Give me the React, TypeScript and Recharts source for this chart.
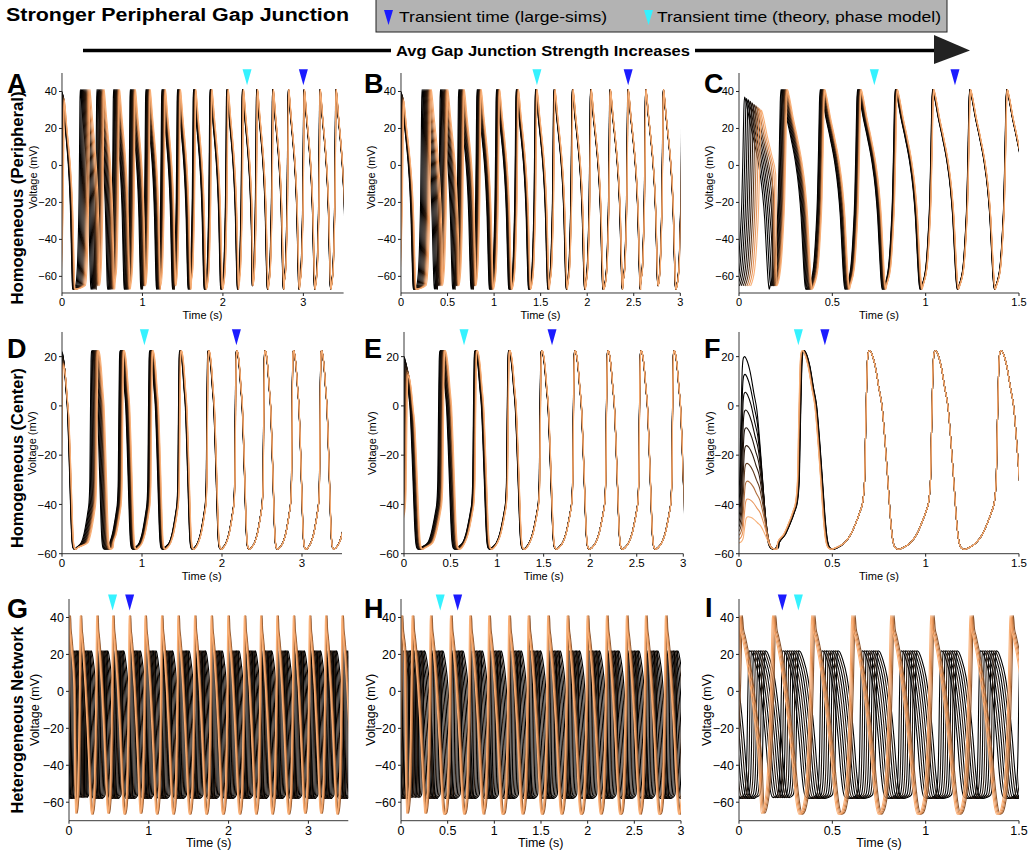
import React from "react";
import { LineChart, Line, XAxis, YAxis, ReferenceDot } from "recharts";

const FONT = "'Liberation Sans', Arial, Helvetica, sans-serif";

// one converged action potential per row, read off the last cycles
// fall: [s after peak, mV]   rise: [s before next peak, mV]
const periphFall = [[0, 41], [0.008, 38], [0.03, 26], [0.055, 14], [0.077, 2], [0.095, -12], [0.108, -28], [0.118, -48], [0.126, -62], [0.132, -67]];
const periphRise = [[0.058, -65], [0.036, -55], [0.024, -38], [0.015, -18], [0.009, 8], [0.004, 34]];
const centerFall = [[0, 22.5], [0.012, 21], [0.03, 16], [0.05, 7], [0.066, 0], [0.084, -16], [0.1, -33], [0.113, -47], [0.125, -55], [0.14, -57.8], [0.155, -58.2], [0.18, -57.5]];
const centerRise = [[0.134, -55.5], [0.1, -52], [0.082, -49], [0.052, -43], [0.037, -39], [0.027, -30], [0.022, -12], [0.017, 5], [0.012, 18], [0.006, 22]];
const hetHiFall = [[0, 41], [0.006, 34], [0.015, 30], [0.035, 20], [0.06, 3], [0.085, -18], [0.105, -38], [0.12, -54], [0.132, -63], [0.142, -66.5]];
const hetHiRise = [[0.06, -66], [0.045, -62], [0.03, -50], [0.018, -25], [0.009, 5], [0.003, 33]];
const hetLoFall = [[0, 22], [0.01, 21.5], [0.028, 17], [0.05, 8], [0.07, -7], [0.088, -26], [0.102, -44], [0.112, -53], [0.122, -57], [0.14, -58]];
const hetLoRise = [[0.05, -57.5], [0.028, -56], [0.018, -49], [0.012, -30], [0.008, -4], [0.004, 15]];

// peak times (s) of the leading trace, and lag of the last (orange) trace behind it
const aPeaks = [0.0, 0.227, 0.434, 0.641, 0.848, 1.042, 1.241, 1.435, 1.634, 1.84, 2.047, 2.241, 2.419, 2.618, 2.812, 3.007, 3.205, 3.404, 3.6];
const aSpread = [0.03, 0.12, 0.09, 0.075, 0.065, 0.055, 0.045, 0.038, 0.03, 0.025, 0.02, 0.016, 0.013, 0.01, 0.008, 0.007, 0.006, 0.005, 0.005];
const aFirst = [40, 35];
const bPeaks = [0.0, 0.226, 0.423, 0.62, 0.817, 1.025, 1.237, 1.444, 1.642, 1.839, 2.036, 2.244, 2.437, 2.628, 2.817, 3.02];
const bSpread = [0.03, 0.1, 0.08, 0.06, 0.045, 0.035, 0.025, 0.018, 0.013, 0.01, 0.008, 0.006, 0.005, 0.004, 0.004, 0.004];
const bFirst = [40, 35];
const cPeaks = [0.03, 0.225, 0.435, 0.635, 0.837, 1.037, 1.236, 1.434, 1.63];
const cSpread = [0.09, 0.035, 0.025, 0.02, 0.012, 0.007, 0.005, 0.004, 0.004];
const cFirst = [37, 30];
const dPeaks = [0.0, 0.375, 0.73, 1.1, 1.475, 1.83, 2.185, 2.54, 2.895, 3.245, 3.6];
const dSpread = [0.02, 0.085, 0.05, 0.04, 0.02, 0.01, 0.005, 0.003, 0.002, 0.002, 0.002];
const dFirst = [22, 16];
const ePeaks = [0.0, 0.39, 0.765, 1.128, 1.48, 1.838, 2.193, 2.548, 2.903, 3.258];
const eSpread = [0.05, 0.055, 0.025, 0.012, 0.006, 0.003, 0.002, 0.002, 0.002, 0.002];
const eFirst = [20, 12];
const fPeaks = [0.03, 0.35, 0.7, 1.053, 1.405, 1.76];
const fSpread = [0.02, -0.01, 0, 0, 0, 0];
const fFirst = [20, -45];
const gPeaks = [-0.2, 0.0, 0.14, 0.346, 0.546, 0.754, 0.952, 1.158, 1.364, 1.572, 1.78, 1.99, 2.196, 2.4, 2.604, 2.81, 3.012, 3.214, 3.42, 3.62];
const hPeaks = [-0.2, 0.0, 0.118, 0.314, 0.529, 0.736, 0.939, 1.154, 1.361, 1.571, 1.779, 1.993, 2.2, 2.414, 2.618, 2.832, 3.04];
const iPeaks = [-0.2, 0.0, 0.179, 0.389, 0.604, 0.8125, 1.027, 1.2375, 1.452, 1.665];
// heterogeneous: lags (s) of the low-amplitude (dark) and high-amplitude (orange) cells
const gLoLags = [0.03, 0.045, 0.06, 0.075, 0.09, 0.105, 0.12, 0.135];
const hLoLags = [0.025, 0.04, 0.055, 0.07, 0.085, 0.1, 0.115, 0.13];
const iLoLags = [0.055, 0.067, 0.079, 0.091, 0.103, 0.115, 0.127, 0.139];
const gHiLags = [0.02, 0.012, 0.006, 0];
const hHiLags = [0.02, 0.012, 0.006, 0];
const iHiLags = [0.018, 0.012, 0.006, 0];

// transient-time markers [cyan theory, blue large-sims] in s
const aMarks = [2.3, 3.0];
const bMarks = [1.46, 2.44];
const cMarks = [0.725, 1.157];
const dMarks = [1.03, 2.18];
const eMarks = [0.645, 1.59];
const fMarks = [0.318, 0.46];
const gMarks = [0.546, 0.76];
const hMarks = [0.42, 0.607];
const iMarks = [0.318, 0.232];

const xTicksLong = [0, 1, 2, 3];
const xTicksMid = [0, 0.5, 1, 1.5, 2, 2.5, 3];
const xTicksShort = [0, 0.5, 1, 1.5];
const yTicksTall = [-60, -40, -20, 0, 20, 40];
const yTicksCenter = [-60, -40, -20, 0, 20];

const traceColors = ["#000000", "#000000", "#0a0604", "#140c07", "#1f130b", "#2e1c10", "#5e3b21", "#b06f3f", "#e8955b", "#f8b077"];
const loColors = ["#000000", "#1f140c", "#000000", "#2e1d11", "#0d0805", "#000000", "#24170d", "#000000"];
const hiColors = ["#8a5530", "#c98048", "#ee9a5f", "#f9b077"];

type Pt = { t: number; v: number };

function buildCycles(pk: number[], fall: number[][], rise: number[][], floor: number, firstPeak: number) {
  const pts: Pt[] = [];
  const s0 = (firstPeak - floor) / (fall[0][1] - floor);
  for (let j = 0; j < pk.length; j++) {
    const s = j === 0 ? s0 : 1;
    const sc = (v: number) => floor + (v - floor) * s;
    if (j === 0) rise.forEach(([d, v]) => pts.push({ t: pk[0] - d, v: sc(v) }));
    const nextStart = j + 1 < pk.length ? pk[j + 1] - rise[0][0] : Infinity;
    for (const [dt, v] of fall) {
      if (pk[j] + dt >= nextStart) break;
      pts.push({ t: pk[j] + dt, v: sc(v) });
    }
    if (j + 1 < pk.length) rise.forEach(([d, v]) => pts.push({ t: pk[j + 1] - d, v }));
  }
  return pts;
}

const homTraces = (peaks: number[], spread: number[], first: number[], fall: number[][], rise: number[][], floor: number) => {
  const n = traceColors.length - 1;
  return traceColors.map((color, k) => ({
    color,
    pts: buildCycles(peaks.map((p, j) => p + (spread[j] * k) / n), fall, rise, floor, first[0] + ((first[1] - first[0]) * k) / n),
  }));
};

const hetTraces = (peaks: number[], loLags: number[], hiLags: number[]) => [
  ...loLags.map((lag, i) => ({ color: loColors[i], pts: buildCycles(peaks.map((p) => p + lag), hetLoFall, hetLoRise, -58, 22) })),
  ...hiLags.map((lag, i) => ({ color: hiColors[i], pts: buildCycles(peaks.map((p) => p + lag), hetHiFall, hetHiRise, -66.5, 41) })),
];

const rowTop = [73.3, 332.3, 599];
const rowH = [220, 221.7, 221.7];

const panels = [
  { id: "A", row: 0, left: 61.7, w: 281.6, xMax: 3.5, xTicks: xTicksLong, yDomain: [-69, 50], yTicks: yTicksTall, marks: aMarks, tipV: 43.4, fs: 11, vx: -29, traces: homTraces(aPeaks, aSpread, aFirst, periphFall, periphRise, -67) },
  { id: "B", row: 0, left: 400.7, w: 279.3, xMax: 3, xTicks: xTicksMid, yDomain: [-69, 50], yTicks: yTicksTall, marks: bMarks, tipV: 43.4, fs: 11, vx: -30, traces: homTraces(bPeaks, bSpread, bFirst, periphFall, periphRise, -67) },
  { id: "C", row: 0, left: 739, w: 280, xMax: 1.5, xTicks: xTicksShort, yDomain: [-69, 50], yTicks: yTicksTall, marks: cMarks, tipV: 43.4, fs: 11, vx: -30, traces: homTraces(cPeaks, cSpread, cFirst, periphFall, periphRise, -67) },
  { id: "D", row: 1, left: 61.7, w: 280, xMax: 3.5, xTicks: xTicksLong, yDomain: [-60, 30], yTicks: yTicksCenter, marks: dMarks, tipV: 24.6, fs: 11.5, vx: -30, traces: homTraces(dPeaks, dSpread, dFirst, centerFall, centerRise, -58.2) },
  { id: "E", row: 1, left: 404, w: 279.3, xMax: 3, xTicks: xTicksMid, yDomain: [-60, 30], yTicks: yTicksCenter, marks: eMarks, tipV: 24.6, fs: 11.5, vx: -32, traces: homTraces(ePeaks, eSpread, eFirst, centerFall, centerRise, -58.2) },
  { id: "F", row: 1, left: 739, w: 280, xMax: 1.5, xTicks: xTicksShort, yDomain: [-60, 30], yTicks: yTicksCenter, marks: fMarks, tipV: 24.6, fs: 11.5, vx: -29, traces: homTraces(fPeaks, fSpread, fFirst, centerFall, centerRise, -58.2) },
  { id: "G", row: 2, left: 69, w: 279.3, xMax: 3.5, xTicks: xTicksLong, yDomain: [-70, 50], yTicks: yTicksTall, marks: gMarks, tipV: 43.8, fs: 12.5, vx: -34, traces: hetTraces(gPeaks, gLoLags, gHiLags) },
  { id: "H", row: 2, left: 400.7, w: 280, xMax: 3, xTicks: xTicksMid, yDomain: [-70, 50], yTicks: yTicksTall, marks: hMarks, tipV: 43.8, fs: 12.5, vx: -30, traces: hetTraces(hPeaks, hLoLags, hHiLags) },
  { id: "I", row: 2, left: 739, w: 280, xMax: 1.5, xTicks: xTicksShort, yDomain: [-70, 50], yTicks: yTicksTall, marks: iMarks, tipV: 43.8, fs: 12.5, vx: -32.5, traces: hetTraces(iPeaks, iLoLags, iHiLags) },
];

const letterPos: Record<string, number[]> = {
  A: [7, 93], B: [364, 93], C: [704, 93], D: [7, 358], E: [364, 358], F: [704, 358], G: [7, 618], H: [364, 618], I: [705, 617],
};
const rowLabels = [
  { text: "Homogeneous (Peripheral)", y: 198, len: 213 },
  { text: "Homogeneous (Center)", y: 458, len: 180 },
  { text: "Heterogeneous Network", y: 720, len: 187 },
];

const tri = (fill: string) => (props: any) => (
  <polygon points={`${props.cx - 4.5},${props.cy - 16} ${props.cx + 4.5},${props.cy - 16} ${props.cx},${props.cy}`} fill={fill} />
);

const minus = (v: number) => String(v).replace("-", "\u2212");

function Panel(p: any) {
  const top = rowTop[p.row];
  const h = rowH[p.row];
  const tickStyle = { fontSize: p.fs, fill: "#000", fontFamily: FONT };
  return (
    <div style={{ position: "absolute", left: p.left - 50, top: top - 20 }}>
      <LineChart width={p.w + 60} height={h + 50} margin={{ top: 20, right: 10, bottom: 0, left: 0 }}>
        <XAxis
          type="number"
          dataKey="t"
          domain={[0, p.xMax]}
          ticks={p.xTicks}
          allowDataOverflow
          interval={0}
          height={30}
          tickSize={3}
          tickMargin={2}
          axisLine={{ stroke: "#222", strokeWidth: 0.9 }}
          tickLine={{ stroke: "#222" }}
          tick={tickStyle}
        />
        <YAxis
          type="number"
          domain={p.yDomain}
          ticks={p.yTicks}
          allowDataOverflow
          interval={0}
          width={50}
          tickSize={3}
          tickMargin={2}
          tickFormatter={minus}
          axisLine={{ stroke: "#222", strokeWidth: 0.9 }}
          tickLine={{ stroke: "#222" }}
          tick={tickStyle}
        />
        {p.traces.map((tr: any, i: number) => (
          <Line
            key={i}
            data={tr.pts}
            dataKey="v"
            type="monotone"
            stroke={tr.color}
            strokeWidth={1.1}
            dot={false}
            activeDot={false}
            isAnimationActive={false}
          />
        ))}
        <ReferenceDot x={p.marks[0]} y={p.tipV} ifOverflow="visible" shape={tri("#35f2ff")} />
        <ReferenceDot x={p.marks[1]} y={p.tipV} ifOverflow="visible" shape={tri("#1b1bff")} />
      </LineChart>
    </div>
  );
}

export default function App() {
  return (
    <div style={{ position: "absolute", left: 0, top: 0, width: 1030, height: 854, background: "#fff", overflow: "hidden", fontFamily: FONT }}>
      {panels.map((p) => (
        <Panel key={p.id} {...p} />
      ))}
      <svg width={1030} height={854} style={{ position: "absolute", left: 0, top: 0, pointerEvents: "none" }} fontFamily={FONT}>
        <text x={6} y={21} fontSize={18} fontWeight="bold" textLength={343} lengthAdjust="spacingAndGlyphs">
          Stronger Peripheral Gap Junction
        </text>
        <rect x={376} y={-1} width={571} height={33} fill="#b3b3b3" stroke="#222" strokeWidth={1} />
        <polygon points="384,10 393,10 388.5,25" fill="#1b1bff" />
        <text x={399} y={22} fontSize={15} textLength={208} lengthAdjust="spacingAndGlyphs">
          Transient time (large-sims)
        </text>
        <polygon points="644,10 653,10 648.5,25" fill="#35f2ff" />
        <text x={657} y={22} fontSize={15} textLength={284} lengthAdjust="spacingAndGlyphs">
          Transient time (theory, phase model)
        </text>
        <line x1={83} y1={50.5} x2={391} y2={50.5} stroke="#000" strokeWidth={3.5} />
        <line x1={695} y1={50.5} x2={936} y2={50.5} stroke="#000" strokeWidth={3.5} />
        <polygon points="934,35 970,50.5 934,64" fill="#222" />
        <text x={396} y={55.5} fontSize={14.5} fontWeight="bold" textLength={294} lengthAdjust="spacingAndGlyphs">
          Avg Gap Junction Strength Increases
        </text>
        {rowLabels.map((r) => (
          <text
            key={r.text}
            transform={`translate(16.5,${r.y}) rotate(-90)`}
            textAnchor="middle"
            dominantBaseline="central"
            fontSize={16.5}
            fontWeight="bold"
            textLength={r.len}
            lengthAdjust="spacingAndGlyphs"
          >
            {r.text}
          </text>
        ))}
        {panels.map((p) => {
          const top = rowTop[p.row];
          const h = rowH[p.row];
          const big = p.row === 2;
          return (
            <g key={p.id}>
              <text x={letterPos[p.id][0]} y={letterPos[p.id][1]} fontSize={27} fontWeight="bold">
                {p.id}
              </text>
              <text x={p.left + p.w / 2} y={top + h + 22} textAnchor="middle" dominantBaseline="central" fontSize={big ? 12.5 : 11}>
                Time (s)
              </text>
              <text
                transform={`translate(${p.left + p.vx},${top + h / 2 + (p.row === 0 ? -6 : 0)}) rotate(-90)`}
                textAnchor="middle"
                dominantBaseline="central"
                fontSize={big ? 12.5 : 11}
              >
                Voltage (mV)
              </text>
            </g>
          );
        })}
      </svg>
    </div>
  );
}
